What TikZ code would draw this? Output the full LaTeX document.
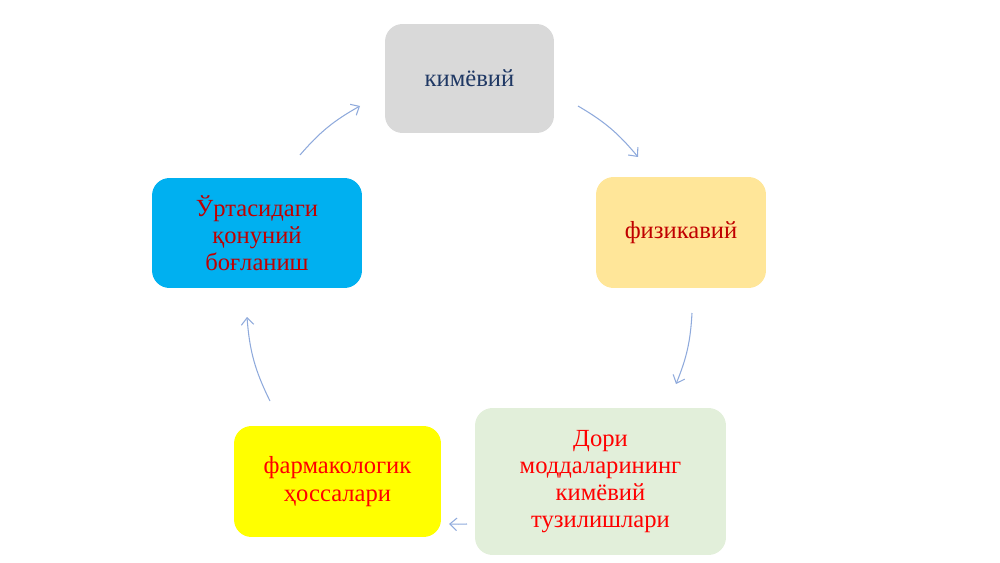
\documentclass[tikz,border=0pt]{standalone}
\usepackage{fontspec}
\setmainfont{Liberation Serif}
\usepackage{tikz}
\usetikzlibrary{arrows.meta}

\definecolor{boxgray}{HTML}{D9D9D9}
\definecolor{boxgold}{HTML}{FFE699}
\definecolor{boxgreen}{HTML}{E2EFDA}
\definecolor{boxyellow}{HTML}{FFFF00}
\definecolor{boxblue}{HTML}{00B0F0}
\definecolor{navytext}{HTML}{1F3864}
\definecolor{darkred}{HTML}{C00000}
\definecolor{arrowblue}{HTML}{8FAADC}

\begin{document}
\begin{tikzpicture}[x=0.02cm,y=0.02cm]
	\useasboundingbox (0,0) rectangle (1000,562);

	\begin{scope}[every node/.style={rounded corners=3.5mm,align=center,
	              font=\fontsize{14}{15.5}\selectfont}]
	    \node[fill=boxgray,text=navytext,minimum width=3.38cm,minimum height=2.18cm] (1) at (469.5,483.5) {кимёвий};
	    \node[fill=boxgold,text=darkred,minimum width=3.4cm,minimum height=2.22cm] (2) at (681,329.5) {физикавий};
	    \node[fill=boxgreen,text=red,minimum width=5.02cm,minimum height=2.94cm] (3) at (600.5,80.5) {Дори\\моддаларининг\\кимёвий\\тузилишлари};
	    \node[fill=boxyellow,text=red,minimum width=4.14cm,minimum height=2.22cm] (4) at (337.5,80.5) {фармакологик\\ҳоссалари};
	    \node[fill=boxblue,text=darkred,minimum width=4.2cm,minimum height=2.2cm] (5) at (257,329) {Ўртасидаги\\қонуний\\боғланиш};
	\end{scope}

	% arrow ends on the circle round the cycle
	\coordinate (1a) at (300,407);
	\coordinate (1b) at (360,456);
	\coordinate (2a) at (578,456);
	\coordinate (2b) at (638,405);
	\coordinate (3a) at (692,249);
	\coordinate (3b) at (676,178);
	\coordinate (4a) at (467,38);
	\coordinate (4b) at (449,38);
	\coordinate (5a) at (270,161);
	\coordinate (5b) at (247,245);

	\begin{scope}[>={Straight Barb[length=1.4mm,width=2.5mm]},
	              every path/.style={draw=arrowblue,line width=0.6pt}]
	    \path[->] (1a) to[bend left=10] (1b);
	    \path[->] (2a) to[bend left=10] (2b);
	    \path[->] (3a) to[bend left=9.5] (3b);
	    \path[->] (4a) to[bend left=2.3] (4b);
	    \path[->] (5a) to[bend left=11] (5b);
	\end{scope}
\end{tikzpicture}
\end{document}
